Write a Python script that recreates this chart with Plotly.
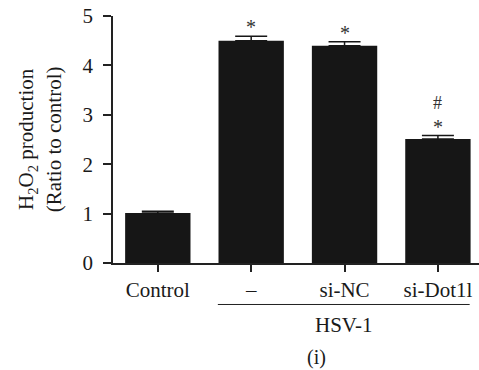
import plotly.graph_objects as go

categories = ["Control", "–", "si-NC", "si-Dot1l"]
values = [1.01, 4.50, 4.40, 2.51]
errors = [0.04, 0.09, 0.08, 0.07]
marks_star = [None, "*", "*", "*"]
marks_hash = [None, None, None, "#"]
y_ticks = [0, 1, 2, 3, 4, 5]
group_label = "HSV-1"
panel_label = "(i)"
y_title = "H<sub>2</sub>O<sub>2</sub> production<br>(Ratio to control)"

FONT = "Liberation Serif"
TXT = "#1a1a1a"
FS = 21

fig = go.Figure()
fig.add_trace(go.Bar(
    x=categories, y=values, width=0.7,
    marker=dict(color="#161616", line=dict(width=0)),
    error_y=dict(type="data", array=errors, symmetric=False, arrayminus=[0] * 4,
                 color="#161616", thickness=1.5, width=16, visible=True),
))

annotations = []
for c, v, e, s, h in zip(categories, values, errors, marks_star, marks_hash):
    if s:
        annotations.append(dict(x=c, y=v + e, text=s, showarrow=False, xref="x", yref="y",
                                yanchor="middle", yshift=9,
                                font=dict(family=FONT, size=20, color="#333")))
    if h:
        annotations.append(dict(x=c, y=v + e, text=h, showarrow=False, xref="x", yref="y",
                                yanchor="middle", yshift=33,
                                font=dict(family=FONT, size=18, color="#333")))

annotations.append(dict(x=1.99, y=-0.249, xref="x", yref="paper", text=group_label, showarrow=False,
                        yanchor="middle", font=dict(family=FONT, size=FS, color=TXT)))
annotations.append(dict(x=1.70, y=-0.383, xref="x", yref="paper", text=panel_label, showarrow=False,
                        yanchor="middle", font=dict(family=FONT, size=20, color=TXT)))
annotations.append(dict(x=-0.2, y=0.5, xref="paper", yref="paper", text=y_title, showarrow=False,
                        textangle=-90, xanchor="center", yanchor="middle",
                        font=dict(family=FONT, size=FS, color=TXT)))

fig.update_layout(
    width=479, height=370,
    margin=dict(l=113, r=0, t=15.5, b=106.7, autoexpand=False),
    paper_bgcolor="white", plot_bgcolor="white",
    showlegend=False,
    font=dict(family=FONT, size=FS, color=TXT),
    annotations=annotations,
    shapes=[dict(type="line", xref="x", yref="paper", x0=0.643, x1=3.34, y0=-0.168, y1=-0.168,
                 line=dict(color="#222", width=1))],
    xaxis=dict(range=[-0.48, 3.44], showline=True, linecolor="#222", linewidth=1.5,
               ticks="outside", ticklen=7, tickwidth=1.5, tickcolor="#222", automargin=False,
               ticklabeloverflow="allow",
               showgrid=False, zeroline=False, tickfont=dict(family=FONT, size=FS, color=TXT)),
    yaxis=dict(range=[0, 5], tickvals=y_ticks, showline=True, linecolor="#222", linewidth=1.5,
               ticks="outside", ticklen=8, tickwidth=1.5, tickcolor="#222", automargin=False,
               ticklabelstandoff=6, ticklabeloverflow="allow",
               showgrid=False, zeroline=False, tickfont=dict(family=FONT, size=FS, color=TXT)),
)

# remove the browser's default 8px body margin so the figure sits at the page's top-left corner
fig.write_html("out.html", config={"displayModeBar": False},
               post_script="document.body.style.margin='0';")
